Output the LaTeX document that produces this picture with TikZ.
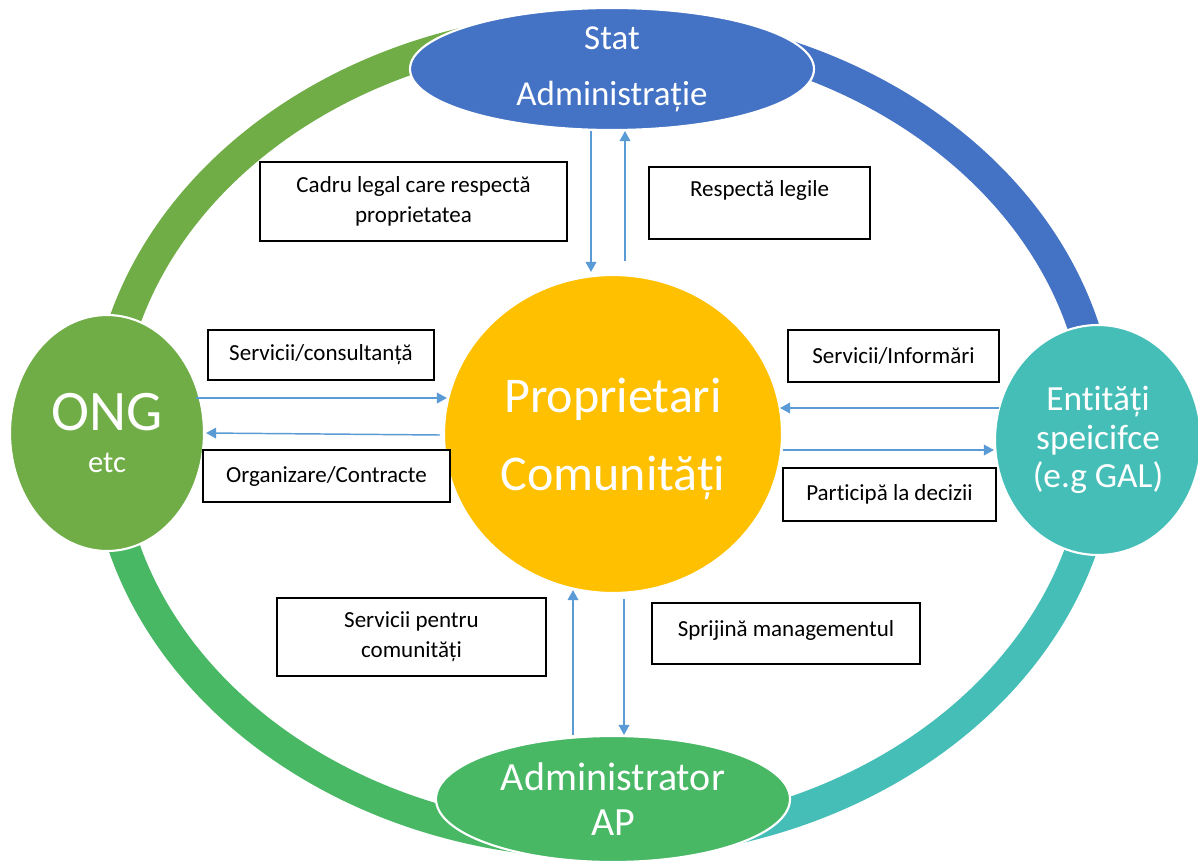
\documentclass[tikz,border=0pt]{standalone}
\usepackage{fontspec}
\setmainfont{Carlito}[Ligatures={NoCommon}]
\usetikzlibrary{arrows.meta,calc,shapes.geometric}
\definecolor{cblue}{HTML}{4472C4}
\definecolor{cong}{HTML}{70AD47}
\definecolor{cyel}{HTML}{FFC000}
\definecolor{cteal}{HTML}{46BEB8}
\definecolor{capg}{HTML}{48B865}
\definecolor{carr}{HTML}{5B9BD5}
\begin{document}
\begin{tikzpicture}[x=0.75pt,y=-0.75pt,
  ring/.style={line width=23.5pt},
  blob/.style={ellipse, draw=white, line width=1.6pt, inner sep=0pt, text=white, align=center},
  lbl/.style={rectangle, draw=black, fill=white, line width=1pt, inner sep=0pt, align=center,
              font=\fontsize{17.25}{22.5}\selectfont},
  arr/.style={draw=carr, line width=1.1pt, -{Triangle[length=7.5pt,width=8pt]}}]
\useasboundingbox (0,0) rectangle (1198,863);
\fill[white] (0,0) rectangle (1198,863);

% ring arcs
\draw[ring, cong] (105,435) arc[start angle=180, end angle=270, x radius=498, y radius=408];
\draw[ring, cblue] (603,27) arc[start angle=270, end angle=360, x radius=498, y radius=408];
\draw[ring, cteal] (1101,435) arc[start angle=0, end angle=90, x radius=498, y radius=408];
\draw[ring, capg] (603,843) arc[start angle=90, end angle=180, x radius=498, y radius=408];

% main nodes
\node[blob, fill=cblue, minimum width=404*0.75pt, minimum height=122*0.75pt, inner ysep=-6pt,
      font=\fontsize{26.25}{42}\selectfont] (stat) at (612,69) {Stat\\Administrație};
\node[blob, fill=cyel, minimum width=338*0.75pt, minimum height=318*0.75pt, text depth=0pt,
      font=\fontsize{37.5}{58.5}\selectfont] (prop) at (613,434) {Proprietari\\Comunități};
\node[blob, fill=cong, minimum width=194*0.75pt, minimum height=236*0.75pt,
      font=\fontsize{43}{31}\selectfont] (ong) at (107,433) {ONG\\{\fontsize{23}{31}\selectfont etc}};
\node[blob, fill=cteal, minimum width=206*0.75pt, minimum height=230*0.75pt,
      font=\fontsize{26.5}{29}\selectfont] (ent) at (1098,440) {Entități\\speicifce\\(e.g GAL)};
\node[blob, fill=capg, minimum width=354*0.75pt, minimum height=126*0.75pt,
      font=\fontsize{30}{34}\selectfont] (ap) at (613,799) {Administrator\\AP};

% reference levels for connectors
\coordinate (xA) at (591,0);
\coordinate (xB) at (625,0);
\coordinate (xC) at (573,0);
\coordinate (xD) at (624,0);
\coordinate (yA) at (0,398);
\coordinate (yB) at (0,408);
\coordinate (yC) at (0,450);

% connectors
\draw[arr] (stat.south -| xA) -- ($(prop.north -| xA)+(0,-2)$);
\draw[arr] ($(prop.north -| xB)+(0,-13)$) -- (stat.south -| xB);
\draw[arr] ($(ong.east |- yA)+(-9,0)$) -- ($(prop.west |- yA)+(4,0)$);
\draw[arr] ($(prop.west)+(-3,1)$) -- ($(ong.east)+(1,0)$);
\draw[arr] ($(ent.west |- yB)+(5,0)$) -- ($(prop.east |- yB)+(-3,0)$);
\draw[arr] (prop.east |- yC) -- (ent.west |- yC);
\draw[arr] (ap.north -| xC) -- ($(prop.south -| xC)+(0,-4)$);
\draw[arr] ($(prop.south -| xD)+(0,5)$) -- (ap.north -| xD);

% label boxes
\node[lbl, minimum width=307*0.75pt, minimum height=79*0.75pt] (cadru) at (413.5,201.5)
  {Cadru legal care respectă\\proprietatea};
\node[lbl, minimum width=221*0.75pt, minimum height=72*0.75pt, text depth=22pt] (resp) at (759.5,203)
  {Respectă legile};
\node[lbl, minimum width=226*0.75pt, minimum height=50*0.75pt] (scons) at (321,355)
  {Servicii/consultanță};
\node[lbl, minimum width=211*0.75pt, minimum height=52*0.75pt] (sinf) at (893.5,356)
  {Servicii/Informări};
\node[lbl, minimum width=247*0.75pt, minimum height=52*0.75pt] (org) at (326.5,476)
  {Organizare/Contracte};
\node[lbl, minimum width=213*0.75pt, minimum height=53*0.75pt] (part) at (889.5,494.5)
  {Participă la decizii};
\node[lbl, minimum width=269*0.75pt, minimum height=78*0.75pt] (spc) at (411.5,637)
  {Servicii pentru\\comunități};
\node[lbl, minimum width=268*0.75pt, minimum height=61*0.75pt, text depth=8pt] (sprij) at (786,633.5)
  {Sprijină managementul};
\end{tikzpicture}
\end{document}
